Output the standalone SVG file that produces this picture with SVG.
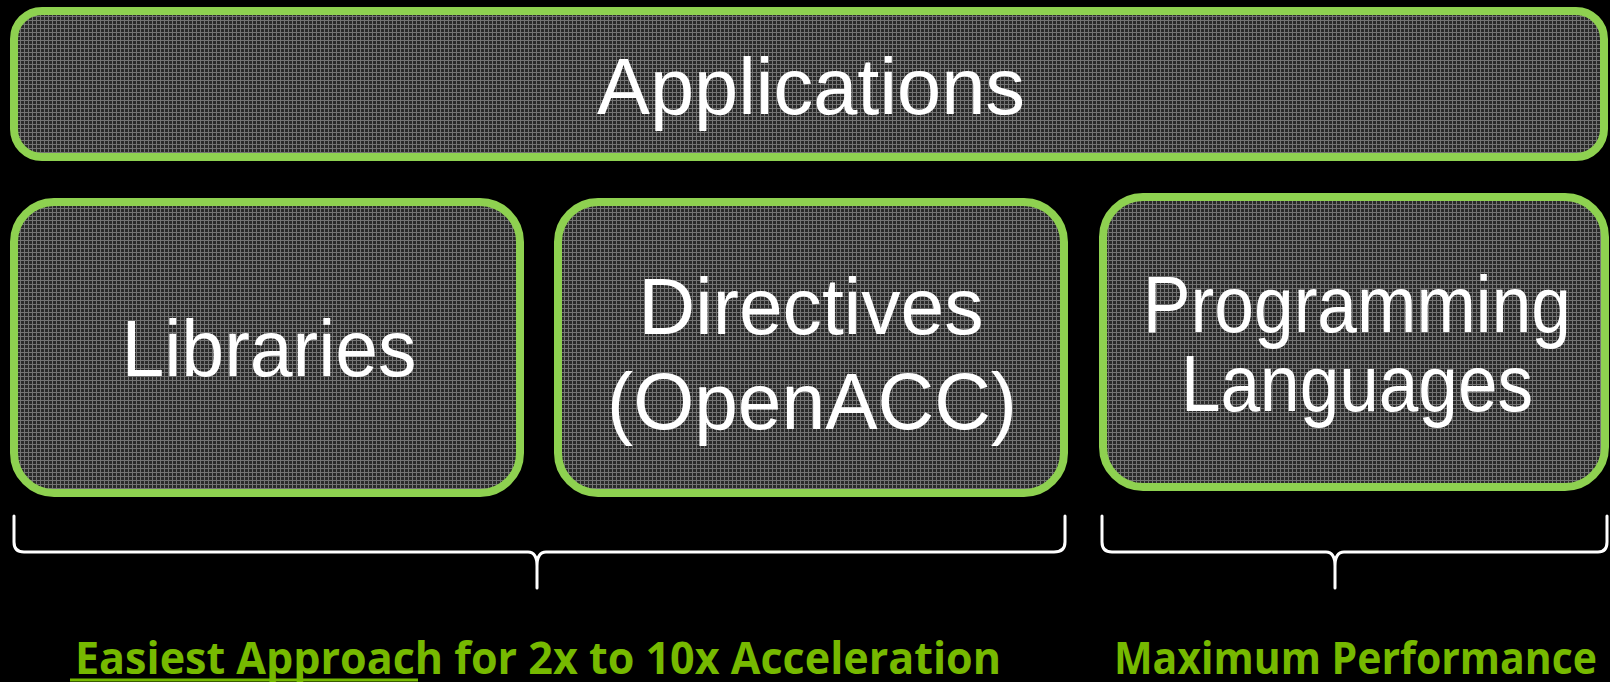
<svg xmlns="http://www.w3.org/2000/svg" width="1610" height="682" viewBox="0 0 1610 682">
<style>
.box{fill:url(#grid);stroke:#8ed150;stroke-width:8}
.lbl{font-family:"Liberation Sans",Arial,sans-serif;font-size:79px;fill:#ffffff;text-anchor:middle}
.brace{fill:none;stroke:#ffffff;stroke-width:3;stroke-linecap:round;stroke-linejoin:round}
.cap{font-family:"Open Sans","DejaVu Sans",sans-serif;font-weight:700;font-size:44px;fill:#76b900}
</style>
<defs>
<pattern id="grid" width="4" height="4" patternUnits="userSpaceOnUse">
<rect width="4" height="4" fill="#2a2a2a"/>
<rect width="4" height="1" fill="#747474"/>
<rect width="1" height="4" fill="#747474"/>
</pattern>
</defs>
<rect width="1610" height="682" fill="#000000"/>
<g id="applications">
<rect class="box" x="14" y="11" width="1590" height="146" rx="28" ry="28"/>
<text class="lbl" x="811" y="114" textLength="428" lengthAdjust="spacingAndGlyphs">Applications</text>
</g>
<g id="libraries">
<rect class="box" x="14" y="202" width="506" height="291" rx="40" ry="40"/>
<text class="lbl" x="269" y="376" textLength="295" lengthAdjust="spacingAndGlyphs">Libraries</text>
</g>
<g id="directives">
<rect class="box" x="558" y="202" width="506" height="291" rx="40" ry="40"/>
<text class="lbl" x="811" y="334" textLength="345" lengthAdjust="spacingAndGlyphs">Directives</text>
<text class="lbl" x="812" y="429" textLength="410" lengthAdjust="spacingAndGlyphs">(OpenACC)</text>
</g>
<g id="programming">
<rect class="box" x="1103" y="197" width="502" height="290" rx="40" ry="40"/>
<text class="lbl" x="1357" y="332" font-size="77" textLength="428" lengthAdjust="spacingAndGlyphs">Programming</text>
<text class="lbl" x="1357" y="411" font-size="77" textLength="352" lengthAdjust="spacingAndGlyphs">Languages</text>
</g>
<g id="connectors">
<path class="brace" d="M14,516 L14,542 Q14,552 24,552 L528,552 Q537,552 537,566 L537,588 M537,566 Q537,552 546,552 L1054,552 Q1065,552 1065,542 L1065,516"/>
<path class="brace" d="M1102,516 L1102,542 Q1102,552 1112,552 L1326,552 Q1335,552 1335,566 L1335,588 M1335,566 Q1335,552 1344,552 L1598,552 Q1607,552 1607,542 L1607,516"/>
</g>
<g id="captions">
<text class="cap" x="75" y="674" textLength="926" lengthAdjust="spacingAndGlyphs">Easiest Approach for 2x to 10x Acceleration</text>
<line x1="70" y1="680" x2="418" y2="680" stroke="#76b900" stroke-width="3"/>
<text class="cap" x="1114" y="674" textLength="483" lengthAdjust="spacingAndGlyphs">Maximum Performance</text>
</g>
</svg>
